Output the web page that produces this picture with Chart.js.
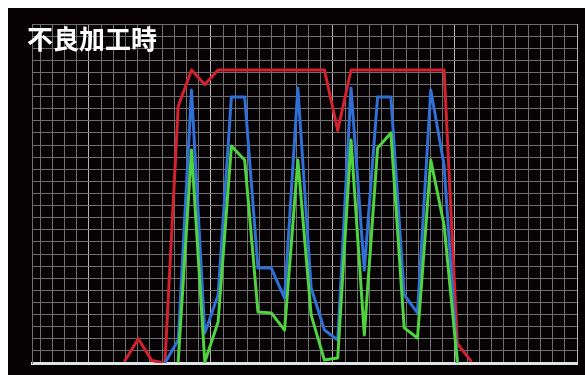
<!DOCTYPE html>
<html lang="ja">
<head>
<meta charset="utf-8">
<title>不良加工時</title>
<script src="https://cdn.jsdelivr.net/npm/chart.js@4.4.1/dist/chart.umd.min.js"></script>
<style>
  html, body { margin: 0; padding: 0; background: #ffffff; }
  #panel {
    position: absolute; left: 8px; top: 8px;
    width: 577px; height: 367px;
    background: #060102;
  }
  #panel canvas { position: absolute; left: 0; top: 0; }
  #caption {
    position: absolute; left: 19px; top: 17px;
    font-family: "Noto Sans CJK JP", "Noto Sans CJK SC", sans-serif;
    font-weight: 700; font-size: 26px; line-height: 26px;
    color: #ffffff; white-space: nowrap;
  }
</style>
</head>
<body>
<div id="panel">
  <canvas id="chart" width="577" height="367"></canvas>
  <div id="caption">不良加工時</div>
</div>
<script>
// sample steps along the time axis
const steps = [0,1,2,3,4,5,6,7,8,9,10,11,12,13,14,15,16,17,18,19,20,21,22,23,24,25,26];

// red trace
const redSeries = [1,10,1,0,106,121,115,121,121,121,121,121,121,121,121,121,96,121,121,121,121,121,121,121,121,8,1];
// blue trace
const blueSeries = [null,null,null,0,9.5,112.7,12.4,28.1,109.9,109.9,39.2,39.2,26.8,113.6,31,13.6,9.5,113.6,38.4,109.9,109.9,28.1,20.7,112.7,81.8,0,null];
// green trace
const greenSeries = [null,null,null,null,0.8,88,0.4,16.9,89.6,83.8,21.1,20.7,13.6,83.8,19.8,1.2,2.1,92.1,11.6,88.8,95,14.5,10.3,83.8,57,0.4,null];

// visible time window and value range
const timeWindow = [-7, 34];
const valueRange = [0, 140];
const valueStep = 5;
// background grid columns (every 10th column is emphasised)
const gridColumns = [0.33, 45];

const toPoints = (series) => steps.map((s, i) => ({ x: s, y: series[i] }));

const minorGrid = '#6f6f6f';
const majorGrid = '#b4b4b4';

const line = (data, color, order) => ({
  data: toPoints(data),
  borderColor: color,
  borderWidth: 3,
  borderJoinStyle: 'round',
  borderCapStyle: 'round',
  pointRadius: 0,
  tension: 0,
  fill: false,
  spanGaps: false,
  order: order,
  xAxisID: 'x',
  yAxisID: 'y'
});

new Chart(document.getElementById('chart'), {
  type: 'line',
  data: {
    datasets: [
      line(redSeries, '#d3222e', 2),
      line(blueSeries, '#2f6fd6', 1),
      line(greenSeries, '#4fd33f', 0)
    ]
  },
  options: {
    responsive: false,
    animation: false,
    devicePixelRatio: 1,
    layout: { padding: { left: 24, top: 16, right: 8, bottom: 12 } },
    plugins: { legend: { display: false }, tooltip: { enabled: false }, title: { display: false } },
    scales: {
      x: {
        type: 'linear',
        min: timeWindow[0],
        max: timeWindow[1],
        display: false
      },
      grid: {
        type: 'linear',
        position: 'bottom',
        min: gridColumns[0],
        max: gridColumns[1],
        ticks: { display: false, stepSize: 1, includeBounds: false },
        grid: {
          drawTicks: false,
          lineWidth: 1,
          color: (ctx) => (ctx.tick && ctx.tick.value % 10 === 5) ? majorGrid : minorGrid
        },
        border: { display: true, color: '#dde5e5', width: 3 },
        afterFit: (scale) => { scale.height = 0; }
      },
      y: {
        type: 'linear',
        min: valueRange[0],
        max: valueRange[1],
        ticks: { display: false, stepSize: valueStep },
        grid: {
          drawTicks: false,
          lineWidth: 1,
          color: (ctx) => (ctx.tick && ctx.tick.value === 0) ? 'rgba(0,0,0,0)' : minorGrid
        },
        border: { display: true, color: minorGrid, width: 1 },
        afterFit: (scale) => { scale.width = 0; }
      }
    }
  }
});
</script>
</body>
</html>
